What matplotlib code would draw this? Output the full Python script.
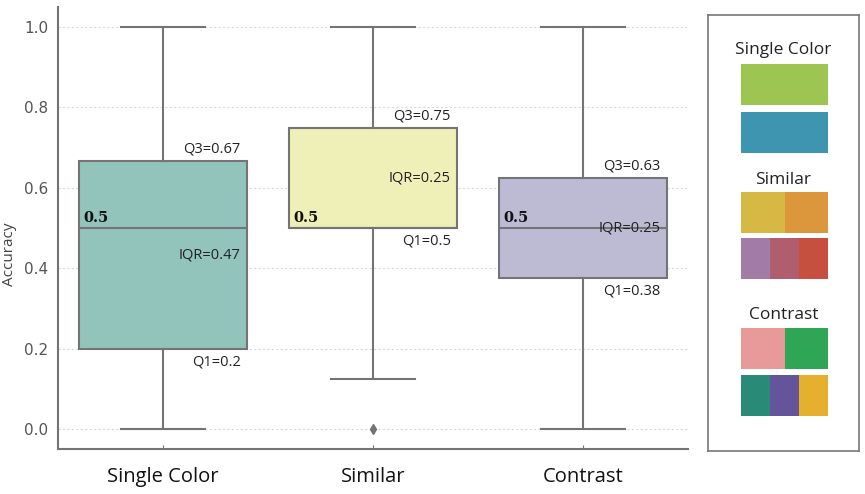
import matplotlib
matplotlib.use("Agg")
import matplotlib.pyplot as plt
from matplotlib.patches import Rectangle

# box statistics per group
groups = ["Single Color", "Similar", "Contrast"]
q1 = [0.2, 0.5, 0.375]
med = [0.5, 0.5, 0.5]
q3 = [0.667, 0.75, 0.625]
whislo = [0.0, 0.125, 0.0]
whishi = [1.0, 1.0, 1.0]
fliers = [[], [0.0], []]
q1_lbl = ["0.2", "0.5", "0.38"]
q3_lbl = ["0.67", "0.75", "0.63"]
iqr_lbl = ["0.47", "0.25", "0.25"]
box_colors = ["#92c4bc", "#eff0b8", "#bdbad4"]

# legend panel
legend_titles = ["Single Color", "Similar", "Contrast"]
legend_rows = [
    [["#9dc552"], ["#3d95b0"]],
    [["#d6b944", "#dc973c"], ["#a27ca6", "#b05e6e", "#c74f40"]],
    [["#e89a9a", "#2ea655"], ["#2a8a78", "#64559b", "#e5b02d"]],
]

line_c = "#747474"
txt_font = ["Open Sans", "DejaVu Sans"]

fig = plt.figure(figsize=(8.65, 4.94), dpi=100)
ax = fig.add_axes([58/865, 45/494, 630/865, 442/494])

stats = []
for i, g in enumerate(groups):
    stats.append(dict(label=g, q1=q1[i], med=med[i], q3=q3[i],
                      whislo=whislo[i], whishi=whishi[i], fliers=fliers[i]))

bp = ax.bxp(stats, positions=range(len(groups)), widths=0.8, patch_artist=True,
            boxprops=dict(edgecolor=line_c, linewidth=1.5),
            medianprops=dict(color=line_c, linewidth=1.5),
            whiskerprops=dict(color=line_c, linewidth=1.5),
            capprops=dict(color=line_c, linewidth=1.5),
            capwidths=0.4,
            flierprops=dict(marker="d", markerfacecolor=line_c,
                            markeredgecolor=line_c, markersize=5))
for patch, c in zip(bp["boxes"], box_colors):
    patch.set_facecolor(c)

for i in range(len(groups)):
    ax.annotate("Q3=" + q3_lbl[i], (i + 0.37, q3[i]), xytext=(0, 3),
                textcoords="offset points", ha="right", va="bottom",
                fontsize=10.5, color="#222222", family=txt_font)
    ax.annotate("Q1=" + q1_lbl[i], (i + 0.37, q1[i]), xytext=(0, -4),
                textcoords="offset points", ha="right", va="top",
                fontsize=10.5, color="#222222", family=txt_font)
    ax.text(i + 0.37, (q1[i] + q3[i]) / 2, "IQR=" + iqr_lbl[i], ha="right",
            va="center", fontsize=10.5, color="#222222", family=txt_font)
    ax.annotate(str(med[i]), (i - 0.38, med[i]),
                xytext=(0, 2), textcoords="offset points", ha="left",
                va="bottom", fontsize=10.5, fontweight="bold", color="#111111",
                family=["DejaVu Serif"])

ax.set_xlim(-0.5, 2.5)
ax.set_ylim(-0.05, 1.05)
ax.set_yticks([0.0, 0.2, 0.4, 0.6, 0.8, 1.0])
ax.set_yticklabels(["0.0", "0.2", "0.4", "0.6", "0.8", "1.0"])
ax.set_xticks(range(len(groups)))
ax.set_xticklabels(groups, fontsize=14.5, color="#111111", family=txt_font)
ax.tick_params(axis="x", direction="in", length=3, color=line_c, pad=13)
ax.tick_params(axis="y", length=0, labelsize=11, labelcolor="#555555", pad=7)
for lbl in ax.get_yticklabels():
    lbl.set_fontweight("medium")
ax.set_ylabel("Accuracy", fontsize=11, color="#444444", family=txt_font)
ax.yaxis.set_label_coords(-0.065, 0.441)
ax.yaxis.grid(True, linestyle=(0, (2, 2)), color="#d8d8d8", linewidth=0.8)
ax.set_axisbelow(True)
for s in ["top", "right"]:
    ax.spines[s].set_visible(False)
for s in ["left", "bottom"]:
    ax.spines[s].set_color(line_c)
    ax.spines[s].set_linewidth(1.5)

# legend panel drawn in pixel-like coordinates
lax = fig.add_axes([708/865, 43/494, 151/865, 436/494])
lax.set_xlim(0, 151)
lax.set_ylim(436, 0)
lax.set_xticks([])
lax.set_yticks([])
for s in lax.spines.values():
    s.set_color("#777777")
    s.set_linewidth(1.2)

title_y = [35, 165, 300]
row_y = [[49, 97], [177, 223], [313, 360]]
sw_x0, sw_w, sw_h = 33, 87, 41
for t, ty, rows, ys in zip(legend_titles, title_y, legend_rows, row_y):
    lax.text(75.5, ty, t, ha="center", va="center", fontsize=12.5,
             color="#222222", family=txt_font)
    for cols, y0 in zip(rows, ys):
        w = sw_w / len(cols)
        for j, c in enumerate(cols):
            lax.add_patch(Rectangle((sw_x0 + j * w, y0), w, sw_h,
                                    facecolor=c, edgecolor="none"))

fig.savefig("out.png", dpi=100)
